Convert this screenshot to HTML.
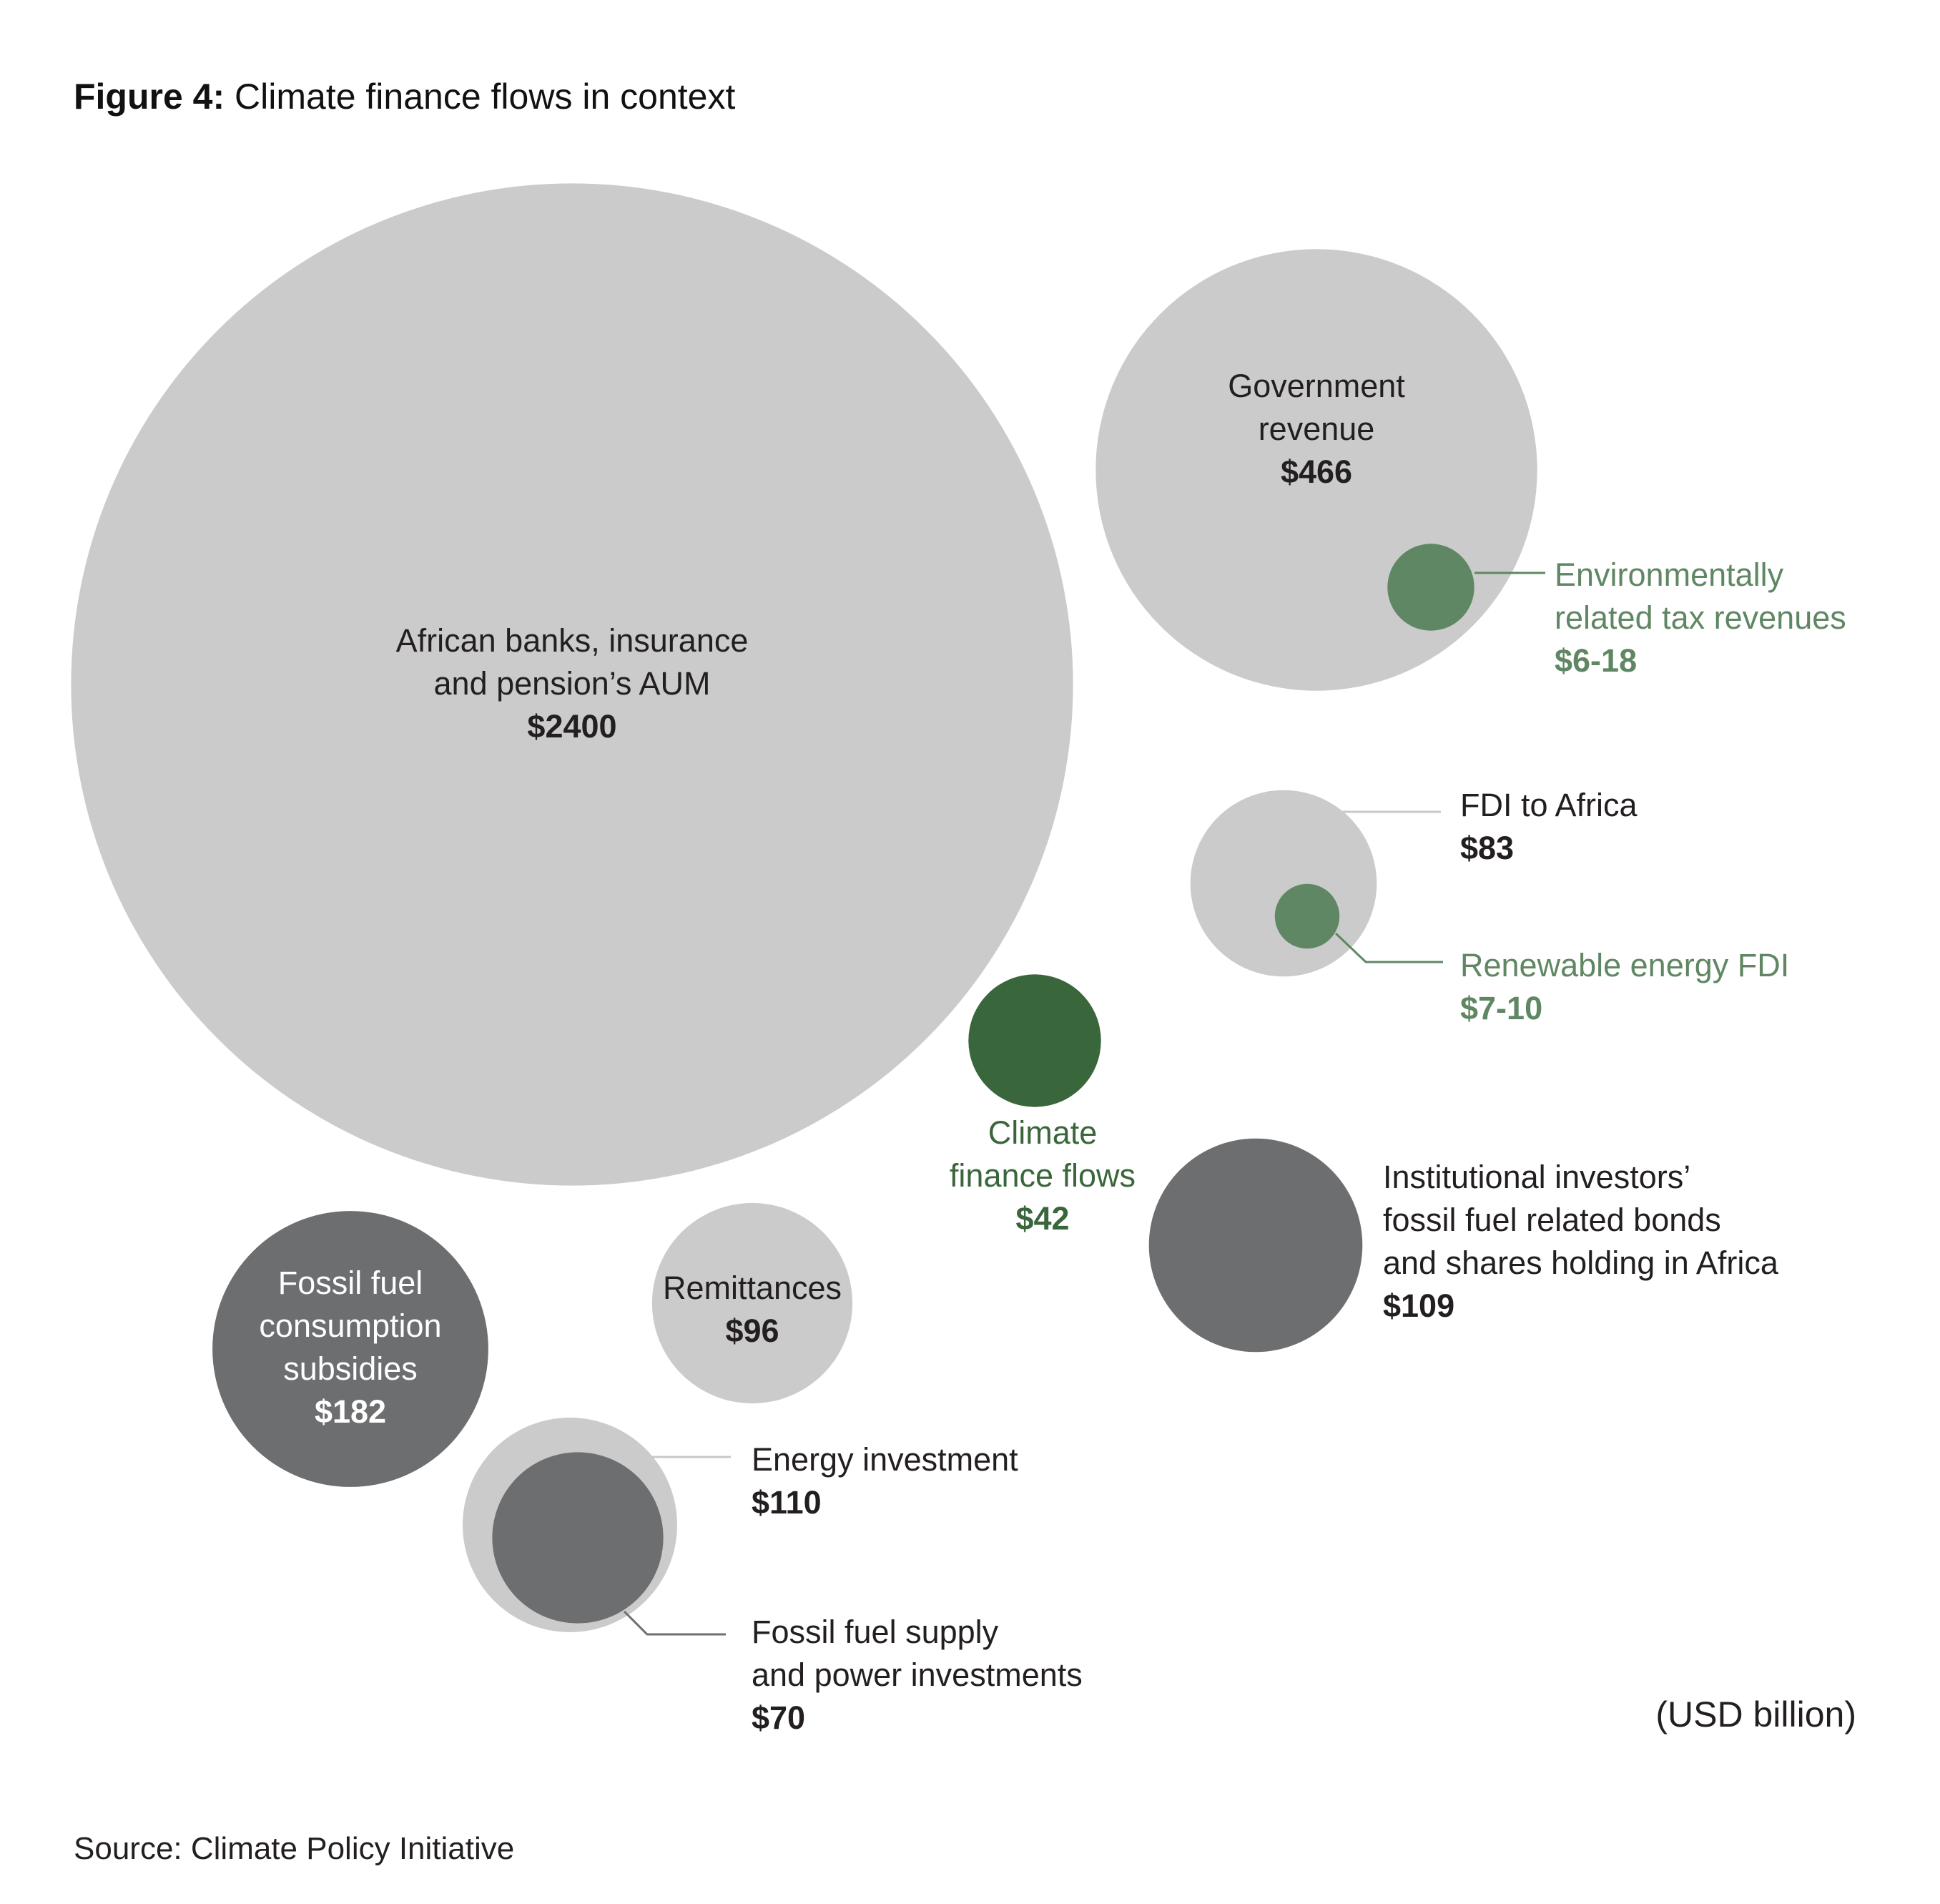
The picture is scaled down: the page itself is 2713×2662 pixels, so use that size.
<!DOCTYPE html>
<html>
<head>
<meta charset="utf-8">
<style>
  html,body{margin:0;padding:0;background:#fff;}
  svg{display:block;}
  text{font-family:"Liberation Sans", sans-serif;}
</style>
</head>
<body>
<svg id="chart" width="2713" height="2662" viewBox="0 0 2713 2662" xmlns="http://www.w3.org/2000/svg">
  <rect x="0" y="0" width="2713" height="2662" fill="#ffffff"/>
  <text x="103" y="152" font-size="50" fill="#111"><tspan font-weight="bold">Figure 4:</tspan> Climate finance flows in context</text>
  <g id="bubbles"></g>
  <g id="connectors"></g>
  <g id="labels"></g>
  <text x="2596" y="2414" font-size="50" fill="#231f20" text-anchor="end">(USD billion)</text>
  <text x="103" y="2599" font-size="44" fill="#231f20">Source: Climate Policy Initiative</text>
</svg>
<script>
// Data (USD billion)
const names = ["aum","gov-revenue","env-tax","fdi","renewable-fdi","climate-finance","institutional","fossil-subsidies","remittances","energy-investment","fossil-supply"];
const values = [2400, 466, 18, 83, 10, 42, 109, 182, 96, 110, 70];
const valueLabels = ["$2400","$466","$6-18","$83","$7-10","$42","$109","$182","$96","$110","$70"];
const labelLines = [
  ["African banks, insurance","and pension\u2019s AUM"],
  ["Government","revenue"],
  ["Environmentally","related tax revenues"],
  ["FDI to Africa"],
  ["Renewable energy FDI"],
  ["Climate","finance flows"],
  ["Institutional investors\u2019","fossil fuel related bonds","and shares holding in Africa"],
  ["Fossil fuel","consumption","subsidies"],
  ["Remittances"],
  ["Energy investment"],
  ["Fossil fuel supply","and power investments"]
];

// Layout (not data)
const centersX = [800,1841,2001,1795,1828,1447,1756,490,1052,797,808];
const centersY = [957,657,821,1235,1281,1455,1741,1886,1822,2132,2150];
const fills = ["#cbcbcb","#cbcbcb","#5f8763","#cbcbcb","#5f8763","#3a663c","#6d6e70","#6d6e70","#cbcbcb","#cbcbcb","#6d6e70"];
const labelX = [800,1841,2174,2042,2042,1458,1934,490,1052,1051,1051];
const labelY0 = [911,555,819,1141,1365,1599,1661,1809,1816,2056,2297];
const anchors = ["middle","middle","start","start","start","middle","start","middle","middle","start","start"];
const textColors = ["#231f20","#231f20","#5f8763","#231f20","#5f8763","#3a663c","#231f20","#ffffff","#231f20","#231f20","#231f20"];
const lineGap = 60;

const K = 14.3;
function rScale(v){ return K*Math.sqrt(v); }

const NS = "http://www.w3.org/2000/svg";
const gB = document.getElementById("bubbles");
const gL = document.getElementById("labels");
const gC = document.getElementById("connectors");

for (let i=0;i<values.length;i++){
  const c = document.createElementNS(NS,"circle");
  c.setAttribute("cx", centersX[i]);
  c.setAttribute("cy", centersY[i]);
  c.setAttribute("r", rScale(values[i]).toFixed(1));
  c.setAttribute("fill", fills[i]);
  
  
  gB.appendChild(c);

  const t = document.createElementNS(NS,"text");
  t.setAttribute("font-size","45");
  t.setAttribute("fill", textColors[i]);
  t.setAttribute("text-anchor", anchors[i]);
  
  
  const lines = labelLines[i].concat([valueLabels[i]]);
  lines.forEach((ln,j)=>{
    const sp = document.createElementNS(NS,"tspan");
    sp.setAttribute("x", labelX[i]);
    sp.setAttribute("y", labelY0[i] + j*lineGap);
    if (j===lines.length-1) sp.setAttribute("font-weight","bold");
    sp.textContent = ln;
    t.appendChild(sp);
  });
  gL.appendChild(t);
}

// connector lines (layout)
const connectors = [
  {pts:"2062,801 2161,801", color:"#5f8763", name:"connector-env-tax"},
  {pts:"1878,1135 2015,1135", color:"#c8c8c8", name:"connector-fdi"},
  {pts:"1868,1305 1910,1345 2018,1345", color:"#5f8763", name:"connector-renewable-fdi"},
  {pts:"911,2037 1022,2037", color:"#c8c8c8", name:"connector-energy-investment"},
  {pts:"873,2253 905,2285 1015,2285", color:"#6d6e70", name:"connector-fossil-supply"}
];
connectors.forEach(cn=>{
  const p = document.createElementNS(NS,"polyline");
  p.setAttribute("points", cn.pts);
  p.setAttribute("fill","none");
  p.setAttribute("stroke", cn.color);
  p.setAttribute("stroke-width","3");
  
  
  gC.appendChild(p);
});
</script>
</body>
</html>
